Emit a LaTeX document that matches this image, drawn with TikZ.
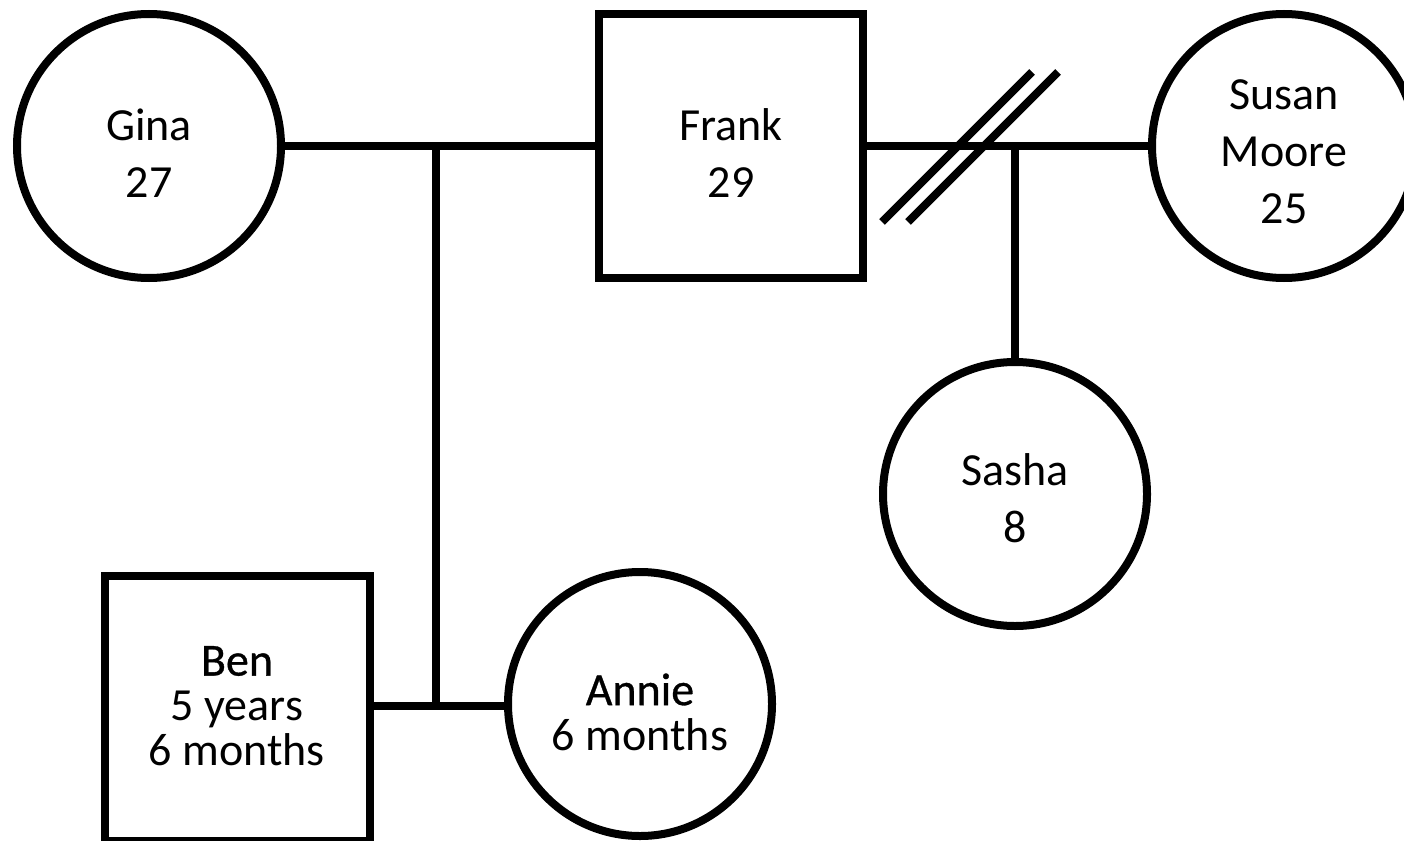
\documentclass[tikz,border=0pt]{standalone}
\usepackage{fontspec}
\setmainfont{Carlito}
\newfontfamily\heavyname{Carlito}[FakeBold=0.7]
\begin{document}
\begin{tikzpicture}[x=1pt,y=-1pt,
  lw/.style={line width=8pt},
  person/.style={draw, lw, fill=white, inner sep=0pt},
  female/.style={person, circle, minimum size=264pt},
  male/.style={person, rectangle, minimum width=264pt, minimum height=264pt},
  persontext/.style={align=center, inner sep=0pt, font=\fontsize{46}{57}\selectfont},
  tighttext/.style={align=center, inner sep=0pt, font=\fontsize{46}{45}\selectfont},
  link/.style={lw}]
\useasboundingbox (0,0) rectangle (1404,840);

% people
\node[female] (Gina)  at (149,146)  {};
\node[male]   (Frank) at (731,146)  {};
\node[female] (Susan) at (1284,146) {};
\node[female] (Sasha) at (1015,494) {};
\node[male, minimum width=265pt, minimum height=265pt] (Ben) at (237,708) {};
\node[female] (Annie) at (640,704) {};

% names and ages
\node[persontext] (Gina-t)  at ([yshift=-7pt]Gina.center)  {Gina\\27};
\node[persontext] (Frank-t) at ([yshift=-7pt]Frank.center) {Frank\\29};
\node[persontext] (Susan-t) at ([yshift=-6pt]Susan.center) {Susan\\Moore\\25};
\node[persontext] (Sasha-t) at ([yshift=-4pt]Sasha.center) {Sasha\\8};
\node[tighttext] (Ben-t) at ([yshift=2pt]Ben.center) {{\heavyname Ben}\\5 years\\6 months};
\node[tighttext] (Annie-t) at ([yshift=-8pt]Annie.center) {{\heavyname Annie}\\6 months};

% partnership and descent lines
\coordinate (gf) at (436,146);
\coordinate (ba) at (436,706);
\draw[link] (Gina) -- (Frank);
\draw[link] (gf) -- (ba);
\draw[link] (Ben.east |- ba) -- (Annie.west |- ba);
\draw[link] (Frank) -- (Susan);
\draw[link] (Sasha.north) -- (Sasha.north |- Frank.east);

% divorce marks
\coordinate (d1a) at (882,222);
\coordinate (d1b) at (1032,72);
\coordinate (d2a) at (908,222);
\coordinate (d2b) at (1058,72);
\draw[lw] (d1a) -- (d1b);
\draw[lw] (d2a) -- (d2b);
\end{tikzpicture}
\end{document}
